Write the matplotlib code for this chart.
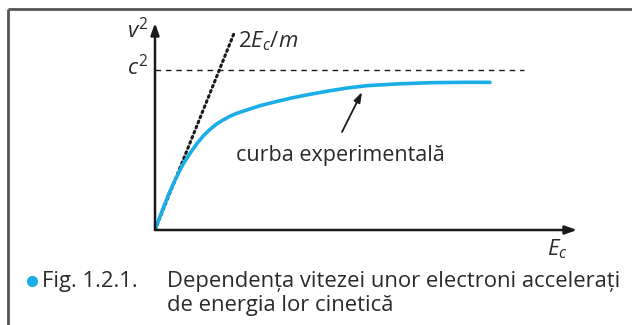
import matplotlib
matplotlib.use("Agg")
import matplotlib.pyplot as plt

plt.rcParams['font.family'] = ['Open Sans', 'DejaVu Sans']
plt.rcParams['mathtext.fontset'] = 'custom'
plt.rcParams['mathtext.rm'] = 'Open Sans'
plt.rcParams['mathtext.it'] = 'Open Sans:italic'

# Measured curve: v^2 (in units of c^2) versus kinetic energy E_c (arbitrary units)
energy = [0.0, 0.064, 0.124, 0.199, 0.273, 0.348, 0.422, 0.522, 0.622, 0.721,
          0.821, 0.921, 1.019, 1.119, 1.219, 1.369, 1.567, 1.766, 2.015, 2.264,
          2.563, 2.860, 3.160, 3.657, 4.154, 4.652, 5.0]
v_squared = [0.0, 0.073, 0.139, 0.219, 0.288, 0.354, 0.413, 0.479, 0.538, 0.588,
             0.629, 0.663, 0.688, 0.711, 0.729, 0.750, 0.777, 0.798, 0.823, 0.844,
             0.867, 0.887, 0.902, 0.914, 0.921, 0.923, 0.923]

# Classical prediction v^2 = 2E_c/m
classical_E = [0.0, 1.19]
classical_v2 = [0.0, 1.24]

c_squared = 1.0
dashed_end = 5.5

caption_tag = "Fig. 1.2.1."
caption_lines = ["Dependența vitezei unor electroni accelerați",
                 "de energia lor cinetică"]

W, H = 632, 325
fig = plt.figure(figsize=(W / 100, H / 100), dpi=100)

# Overlay in pixel coordinates for frame and caption
bg = fig.add_axes([0, 0, 1, 1])
bg.set_xlim(0, W)
bg.set_ylim(H, 0)
bg.axis('off')
frame_col = '#555555'
text_col = '#2a2a2a'
bg.plot([8, 8], [9, H], color=frame_col, lw=2.0, solid_capstyle='butt')
bg.plot([8, W], [9, 9], color=frame_col, lw=2.0, solid_capstyle='butt')
bg.scatter([32], [281], s=65, color='#1aaee8', zorder=3, linewidths=0)
cap_fs = 15.8
bg.text(42, 281, caption_tag, fontsize=cap_fs, va='center', ha='left', color=text_col)
bg.text(167, 281, caption_lines[0], fontsize=cap_fs, va='center', ha='left', color=text_col)
bg.text(167, 306, caption_lines[1], fontsize=cap_fs, va='center', ha='left', color=text_col)

# Main plot axes; origin at pixel (155, 230)
x0, y0 = 155, 230
x1, y1 = 577, 23
ax = fig.add_axes([x0 / W, (H - y0) / H, (x1 - x0) / W, (y0 - y1) / H])
ax.set_xlim(0, 422 / 67)
ax.set_ylim(0, 207 / 160)
ax.axis('off')

arrow_kw = dict(arrowstyle='-|>,head_length=0.7,head_width=0.25', color='#1a1a1a',
                lw=1.8, shrinkA=0, shrinkB=0)
ax.annotate('', xy=(1, 0), xytext=(0, 0), xycoords='axes fraction',
            textcoords='axes fraction', arrowprops=arrow_kw)
ax.annotate('', xy=(0, 1), xytext=(0, 0), xycoords='axes fraction',
            textcoords='axes fraction', arrowprops=arrow_kw)

ax.plot([0, dashed_end], [c_squared, c_squared], color='#1a1a1a', lw=1.0,
        dashes=(4, 3.5))
ax.plot(classical_E, classical_v2, color='#1a1a1a', lw=2.2, linestyle=(0, (0.6, 1.2)),
        dash_capstyle='round')
ax.plot(energy, v_squared, color='#1aaee8', lw=2.6, solid_capstyle='round',
        solid_joinstyle='round')

# Labels in pixel coordinates
lab_fs = 16
bg.text(127, 31, r'$v^2$', fontsize=lab_fs, va='center', ha='left', color=text_col)
bg.text(127, 68, r'$c^2$', fontsize=lab_fs, va='center', ha='left', color=text_col)
bg.text(238, 41, r'$2E_c/m$', fontsize=lab_fs, va='center', ha='left', color=text_col)
bg.text(547, 249, r'$E_c$', fontsize=lab_fs, va='center', ha='left', color=text_col)
bg.text(236, 155, 'curba experimentală', fontsize=15.5, va='center', ha='left',
        color=text_col)
bg.annotate('', xy=(362, 92), xytext=(342, 132),
            arrowprops=dict(arrowstyle='-|>,head_length=0.6,head_width=0.2',
                            color='#1a1a1a', lw=1.3, shrinkA=0, shrinkB=0))

fig.savefig('out.png', dpi=100)
